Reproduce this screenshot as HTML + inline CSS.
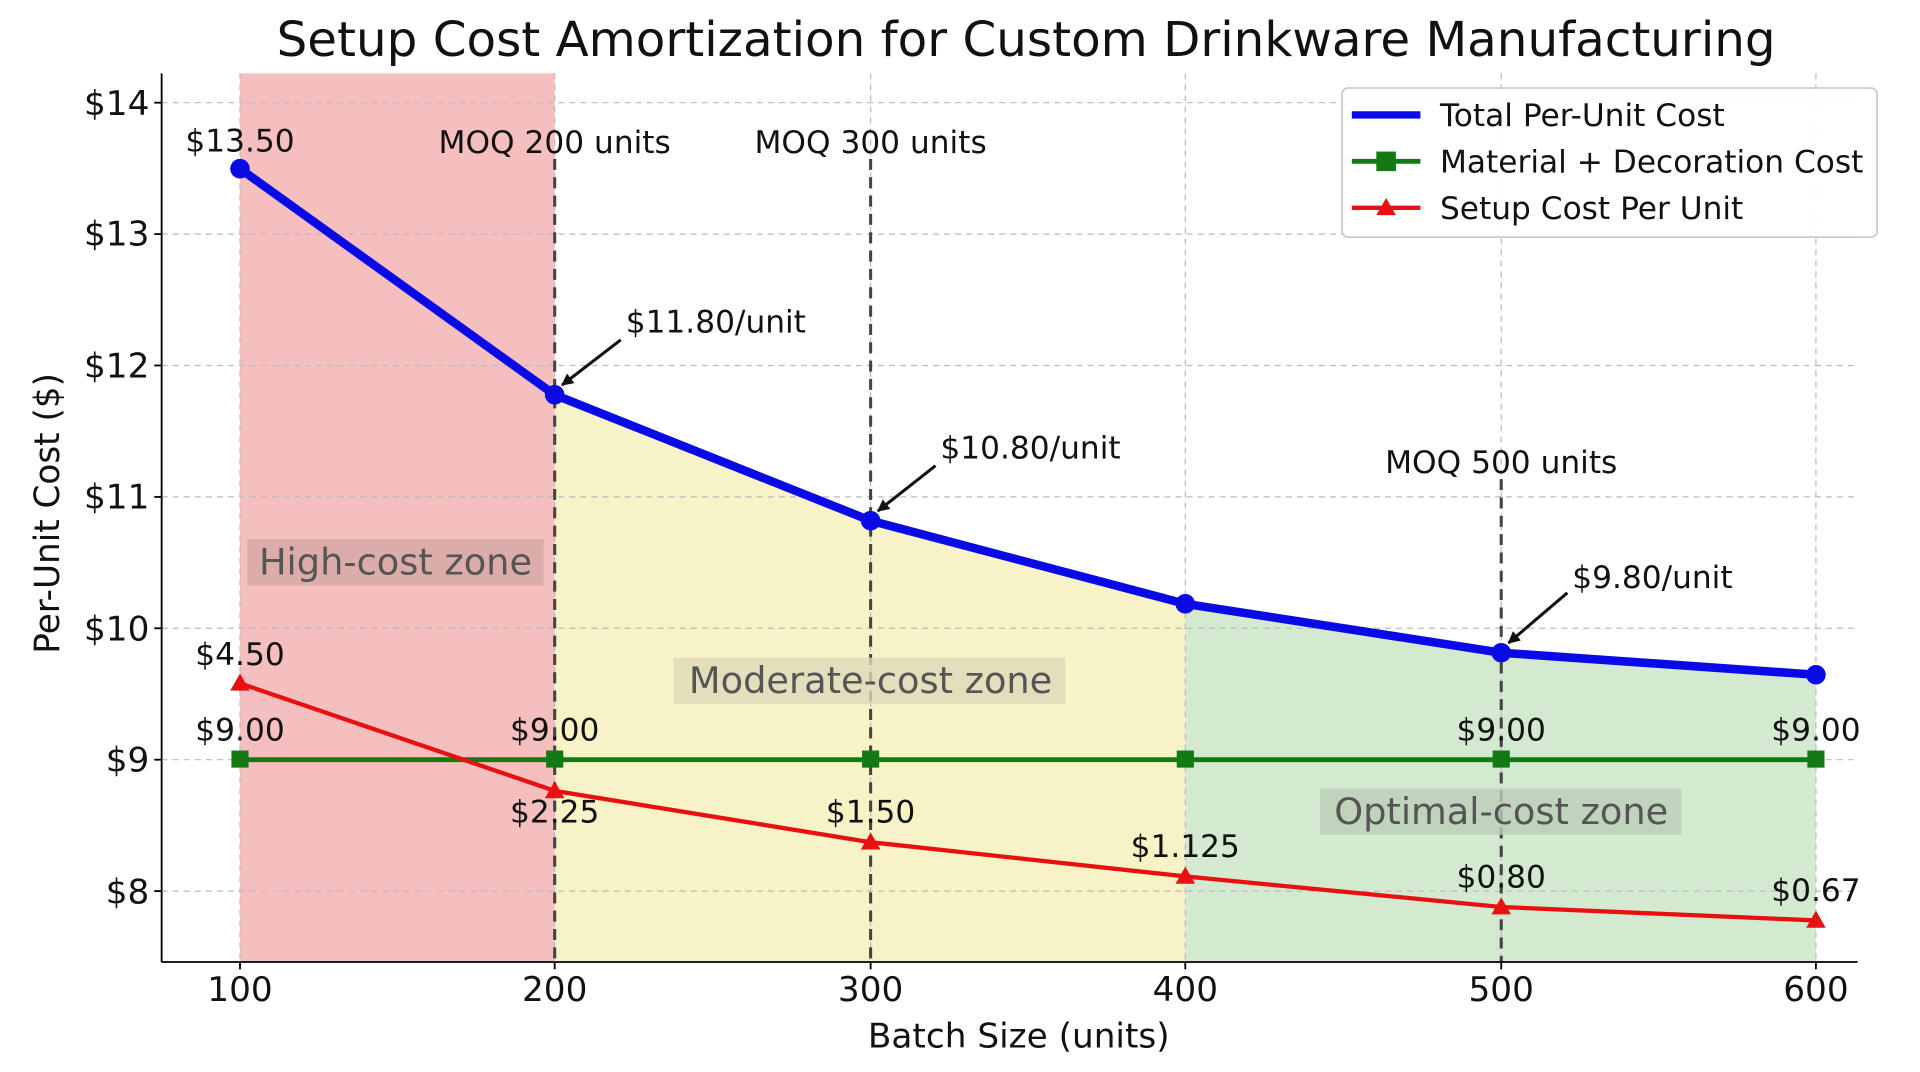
<!DOCTYPE html>
<html><head><meta charset="utf-8"><style>html,body{margin:0;padding:0;background:#fff}svg{display:block}</style></head><body>
<svg width="1920" height="1072" viewBox="0 0 1568 877" preserveAspectRatio="none" xmlns="http://www.w3.org/2000/svg" font-family="DejaVu Sans, Liberation Sans, sans-serif">
<defs><marker id="ar" markerWidth="10" markerHeight="10" refX="9" refY="5" orient="auto" markerUnits="userSpaceOnUse"><path d="M0,0 L10,5 L0,10 z" fill="#111"/></marker></defs>
<rect x="196" y="60" width="257" height="727" fill="#f4b4b4" opacity="0.85"/>
<polygon points="453,323 711,426 968,494 968,787 453,787" fill="#f7f3c6"/>
<polygon points="968,494 1226,534 1483,552 1483,787 968,787" fill="#d3ead0"/>
<g stroke="#bbb" stroke-dasharray="5,4" stroke-width="1">
<line x1="132" x2="1517" y1="84" y2="84"/><line x1="132" x2="1517" y1="191.5" y2="191.5"/><line x1="132" x2="1517" y1="299" y2="299"/><line x1="132" x2="1517" y1="406.5" y2="406.5"/><line x1="132" x2="1517" y1="514" y2="514"/><line x1="132" x2="1517" y1="621.5" y2="621.5"/><line x1="132" x2="1517" y1="729" y2="729"/>
<line x1="196" x2="196" y1="60" y2="787"/><line x1="453" x2="453" y1="60" y2="787"/><line x1="711" x2="711" y1="60" y2="787"/><line x1="968" x2="968" y1="60" y2="787"/><line x1="1226" x2="1226" y1="60" y2="787"/><line x1="1483" x2="1483" y1="60" y2="787"/>
</g>
<g stroke="#444" stroke-width="2.5" stroke-dasharray="9,6">
<line x1="453" x2="453" y1="130" y2="787"/><line x1="711" x2="711" y1="130" y2="787"/><line x1="1226" x2="1226" y1="392" y2="787"/>
</g>
<line x1="132" x2="132" y1="60" y2="787" stroke="#000" stroke-width="1.5"/>
<line x1="132" x2="1517" y1="787" y2="787" stroke="#000" stroke-width="1.5"/>
<g font-size="28" text-anchor="end" fill="#111">
<text x="122" y="94">$14</text><text x="122" y="201">$13</text><text x="122" y="309">$12</text><text x="122" y="416">$11</text><text x="122" y="524">$10</text><text x="122" y="631">$9</text><text x="122" y="739">$8</text>
</g>
<g stroke="#000" stroke-width="1.5"><line x1="126" x2="132" y1="84" y2="84"/><line x1="126" x2="132" y1="191.5" y2="191.5"/><line x1="126" x2="132" y1="299" y2="299"/><line x1="126" x2="132" y1="406.5" y2="406.5"/><line x1="126" x2="132" y1="514" y2="514"/><line x1="126" x2="132" y1="621.5" y2="621.5"/><line x1="126" x2="132" y1="729" y2="729"/>
<line x1="196" x2="196" y1="787" y2="793"/><line x1="453" x2="453" y1="787" y2="793"/><line x1="711" x2="711" y1="787" y2="793"/><line x1="968" x2="968" y1="787" y2="793"/><line x1="1226" x2="1226" y1="787" y2="793"/><line x1="1483" x2="1483" y1="787" y2="793"/></g>
<g font-size="28" text-anchor="middle" fill="#111">
<text x="196" y="819">100</text><text x="453" y="819">200</text><text x="711" y="819">300</text><text x="968" y="819">400</text><text x="1226" y="819">500</text><text x="1483" y="819">600</text>
<text x="832" y="857">Batch Size (units)</text>
<text x="838" y="46" font-size="39.5">Setup Cost Amortization for Custom Drinkware Manufacturing</text>
</g>
<text transform="translate(48,420) rotate(-90)" font-size="28" text-anchor="middle" fill="#111">Per-Unit Cost ($)</text>
<rect x="202" y="441" width="242" height="38" fill="#c9a09c" opacity="0.6"/>
<text x="323" y="470" font-size="30" text-anchor="middle" fill="#555">High-cost zone</text>
<rect x="550" y="538" width="320" height="38" fill="#ddd8b8" opacity="0.8"/>
<text x="711" y="567" font-size="30" text-anchor="middle" fill="#555">Moderate-cost zone</text>
<rect x="1078" y="645" width="295" height="38" fill="#bccdb7" opacity="0.8"/>
<text x="1226" y="674" font-size="30" text-anchor="middle" fill="#555">Optimal-cost zone</text>
<polyline points="196,621.5 453,621.5 711,621.5 968,621.5 1226,621.5 1483,621.5" fill="none" stroke="#137a13" stroke-width="4"/>
<g fill="#137a13"><rect x="189" y="614" width="14" height="14"/><rect x="446" y="614" width="14" height="14"/><rect x="704" y="614" width="14" height="14"/><rect x="961" y="614" width="14" height="14"/><rect x="1219" y="614" width="14" height="14"/><rect x="1476" y="614" width="14" height="14"/></g>
<polyline points="196,559 453,647 711,689 968,717 1226,742 1483,753" fill="none" stroke="#e81010" stroke-width="3.5"/>
<g fill="#e81010"><path d="M196,551 l8,14 h-16z"/><path d="M453,639 l8,14 h-16z"/><path d="M711,681 l8,14 h-16z"/><path d="M968,709 l8,14 h-16z"/><path d="M1226,734 l8,14 h-16z"/><path d="M1483,745 l8,14 h-16z"/></g>
<polyline points="196,138 453,323 711,426 968,494 1226,534 1483,552" fill="none" stroke="#0a0ae6" stroke-width="7"/>
<g fill="#0a0ae6"><circle cx="196" cy="138" r="8"/><circle cx="453" cy="323" r="8"/><circle cx="711" cy="426" r="8"/><circle cx="968" cy="494" r="8"/><circle cx="1226" cy="534" r="8"/><circle cx="1483" cy="552" r="8"/></g>
<g font-size="25.5" fill="#111" text-anchor="middle">
<text x="196" y="124">$13.50</text>
<text x="453" y="125">MOQ 200 units</text><text x="711" y="125">MOQ 300 units</text><text x="1226" y="387">MOQ 500 units</text>
<text x="196" y="544">$4.50</text>
<text x="196" y="606">$9.00</text><text x="453" y="606">$9.00</text><text x="1226" y="606">$9.00</text><text x="1483" y="606">$9.00</text>
<text x="453" y="673">$2.25</text><text x="711" y="673">$1.50</text><text x="968" y="701">$1.125</text><text x="1226" y="726">$0.80</text><text x="1483" y="737">$0.67</text>
</g>
<g font-size="25.5" fill="#111">
<text x="511" y="272">$11.80/unit</text><text x="768" y="375">$10.80/unit</text><text x="1284" y="481">$9.80/unit</text>
</g>
<g stroke="#111" stroke-width="2.5" marker-end="url(#ar)">
<line x1="507" y1="278" x2="459" y2="315"/><line x1="764" y1="381" x2="717" y2="418"/><line x1="1280" y1="485" x2="1232" y2="526"/>
</g>
<rect x="1096" y="72" width="437" height="122" rx="5" fill="#fff" fill-opacity="0.9" stroke="#ccc" stroke-width="1.5"/>
<line x1="1104" x2="1160" y1="94" y2="94" stroke="#0a0ae6" stroke-width="6"/>
<line x1="1104" x2="1160" y1="132" y2="132" stroke="#137a13" stroke-width="4"/><rect x="1124" y="124" width="16" height="16" fill="#137a13"/>
<line x1="1104" x2="1160" y1="170" y2="170" stroke="#e81010" stroke-width="3.5"/><path d="M1132,162 l8,14 h-16z" fill="#e81010"/>
<g font-size="25.5" fill="#111"><text x="1176" y="103">Total Per-Unit Cost</text><text x="1176" y="141">Material + Decoration Cost</text><text x="1176" y="179">Setup Cost Per Unit</text></g>
</svg>
</body></html>
